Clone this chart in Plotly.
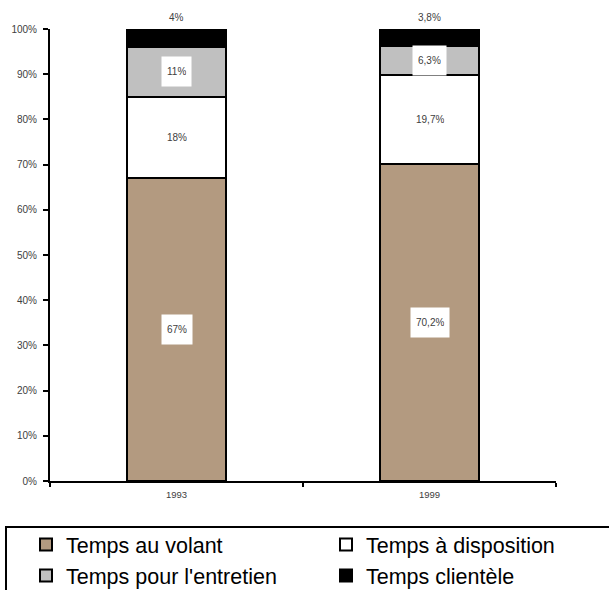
import plotly.graph_objects as go

years = ["1993", "1999"]
series_names = ["Temps au volant", "Temps à disposition", "Temps pour l'entretien", "Temps clientèle"]
volant = [67.0, 70.2]
disposition = [18.0, 19.7]
entretien = [11.0, 6.3]
clientele = [4.0, 3.8]
label_volant = ["67%", "70,2%"]
label_disposition = ["18%", "19,7%"]
label_entretien = ["11%", "6,3%"]
label_clientele = ["4%", "3,8%"]
y_ticks = [0, 10, 20, 30, 40, 50, 60, 70, 80, 90, 100]
y_tick_text = ["0%", "10%", "20%", "30%", "40%", "50%", "60%", "70%", "80%", "90%", "100%"]

colors = ["#B39A80", "#FFFFFF", "#C0C0C0", "#000000"]
legend_ids = ["legend", "legend2", "legend", "legend2"]
series = [volant, disposition, entretien, clientele]
labels = [label_volant, label_disposition, label_entretien, label_clientele]

W, H = 609, 590
ML, MR, MT, MB = 50, 53, 29, 109
PW, PH = W - ML - MR, H - MT - MB

def px_x(p):
    return (p - ML) / PW

def px_y(p):
    return (H - MB - p) / PH

fig = go.Figure()
for name, vals, col, lg in zip(series_names, series, colors, legend_ids):
    fig.add_trace(go.Bar(
        x=years, y=vals, name=name, legend=lg,
        marker=dict(color=col, line=dict(color="#000000", width=2)),
        width=0.39,
    ))

lab_font = dict(family="Liberation Sans, Arial", size=10, color="#404040")
annotations = []
for i, yr in enumerate(years):
    base = 0.0
    for k, (vals, labs) in enumerate(zip(series, labels)):
        v = vals[i]
        if k == len(series) - 1:
            annotations.append(dict(
                x=i, y=base + v, xref="x", yref="y", text=labs[i], showarrow=False,
                yanchor="middle", yshift=12, font=lab_font,
            ))
        else:
            annotations.append(dict(
                x=i, y=base + v / 2, xref="x", yref="y", text=labs[i], showarrow=False,
                bgcolor="#FFFFFF", borderpad=5, height=19, font=lab_font,
            ))
        base += v

leg_font = dict(family="Liberation Sans, Arial", size=21.5, color="#000000")
fig.update_layout(
    barmode="stack",
    width=W, height=H,
    margin=dict(l=ML, r=MR, t=MT, b=MB, autoexpand=False),
    paper_bgcolor="#FFFFFF", plot_bgcolor="#FFFFFF",
    font=dict(family="Liberation Sans, Arial", color="#404040"),
    annotations=annotations,
    shapes=[dict(
        type="rect", xref="paper", yref="paper",
        x0=px_x(6), x1=px_x(640), y0=px_y(527), y1=px_y(640),
        line=dict(color="#000000", width=2), fillcolor="rgba(0,0,0,0)", layer="below",
    )],
    showlegend=True,
    legend=dict(
        orientation="v", x=px_x(26), y=px_y(524), xanchor="left", yanchor="top",
        bgcolor="rgba(0,0,0,0)", borderwidth=0, font=leg_font, traceorder="normal",
    ),
    legend2=dict(
        orientation="v", x=px_x(326), y=px_y(524), xanchor="left", yanchor="top",
        bgcolor="rgba(0,0,0,0)", borderwidth=0, font=leg_font, traceorder="normal",
    ),
    xaxis=dict(
        type="category", showline=True, linecolor="#000000", linewidth=2,
        ticks="outside", tickson="boundaries", ticklen=4, tickwidth=2, tickcolor="#000000",
        tickfont=dict(size=9.5, color="#404040"), showgrid=False, zeroline=False,
        range=[-0.5, 1.5], ticklabelstandoff=4,
    ),
    yaxis=dict(
        range=[0, 100], tickvals=y_ticks, ticktext=y_tick_text,
        showline=True, linecolor="#000000", linewidth=2,
        ticks="outside", ticklen=5, tickwidth=2, tickcolor="#000000",
        tickfont=dict(size=10, color="#404040"), showgrid=False, zeroline=False,
        ticklabelstandoff=4,
    ),
)

fig.write_html("out.html", config={"displayModeBar": False},
               post_script="document.body.style.margin='0px';")
